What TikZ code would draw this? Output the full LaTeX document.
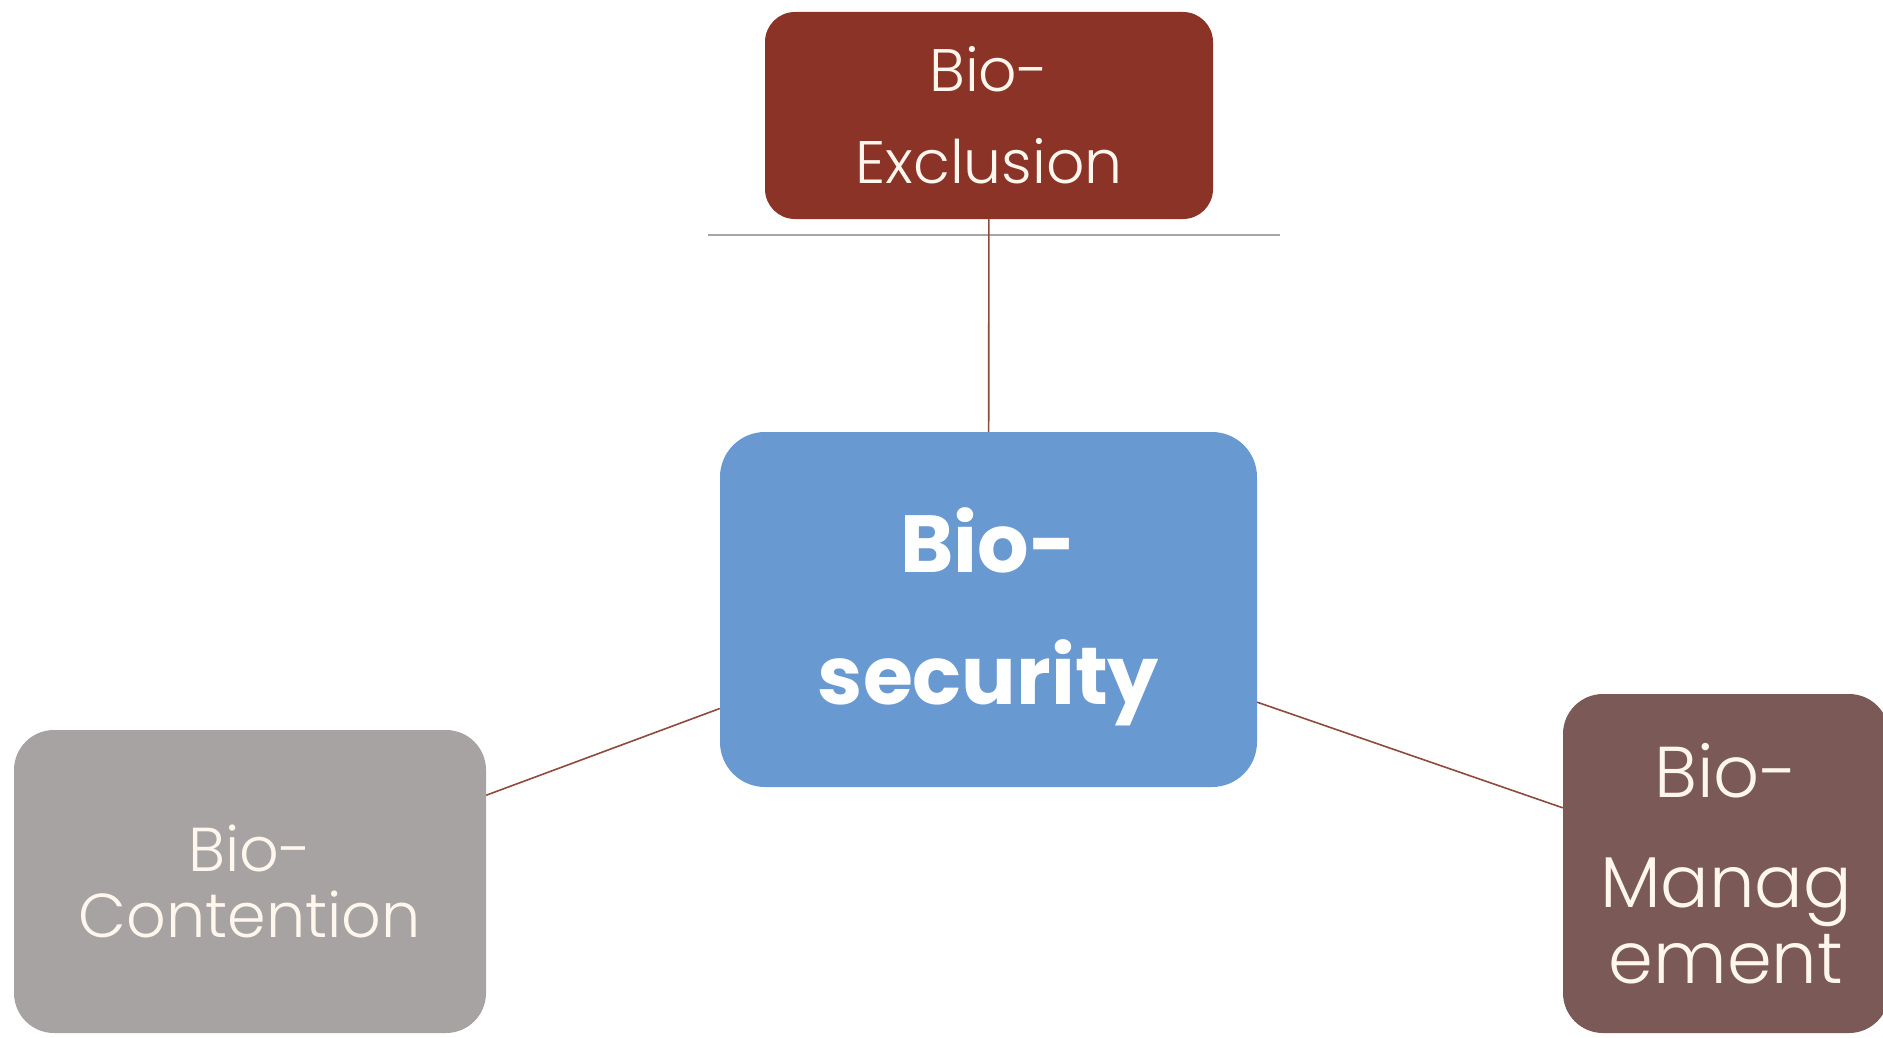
\documentclass[tikz,border=0pt]{standalone}
\usepackage{fontspec}
\setmainfont{Poppins}
\newfontfamily\thinfont{Poppins Light}
\usepackage{xcolor}

\definecolor{exclred}{HTML}{8B3326}
\definecolor{securblue}{HTML}{6899D0}
\definecolor{contgray}{HTML}{A6A3A2}
\definecolor{managbrown}{HTML}{7B5956}
\definecolor{linkred}{HTML}{8E4A3C}
\definecolor{cream}{HTML}{FFF6EE}

\begin{document}
\begin{tikzpicture}[x=1pt,y=-1pt,
  box/.style={rounded corners=30pt, inner sep=0pt, align=center, text=cream, font=\thinfont},
  link/.style={draw=linkred, line width=1.6pt}]
\useasboundingbox[fill=white] (0,0) rectangle (1883,1038);

\node[box, fill=exclred, minimum width=448pt, minimum height=207pt,
  font=\thinfont\fontsize{60}{92}\selectfont] (excl) at (989,115.5) {Bio-\\Exclusion};
\node[box, fill=securblue, text=white, rounded corners=45pt, minimum width=537pt, minimum height=355pt,
  text height=212pt, font=\bfseries\fontsize{81}{132}\selectfont] (secur) at (988.5,609.5) {Bio-\\security};
\node[box, fill=contgray, rounded corners=40pt, minimum width=472pt, minimum height=303pt,
  font=\thinfont\fontsize{62}{66}\selectfont] (cont) at (250,881.5) {Bio-\\Contention};
\node[box, fill=managbrown, rounded corners=40pt, minimum width=326pt, minimum height=339pt,
  font=\thinfont\fontsize{72}{76}\selectfont] (manag) at (1726,863.5) {Bio-\\[34pt]Manag\\ement};

% grey rule under the top box
\draw[gray!70, line width=1.4pt] (708,235) -- (1280,235);

\draw[link] (excl) -- (secur);
\draw[link] (secur) -- (cont);
\draw[link] (secur) -- (manag);
\end{tikzpicture}
\end{document}
